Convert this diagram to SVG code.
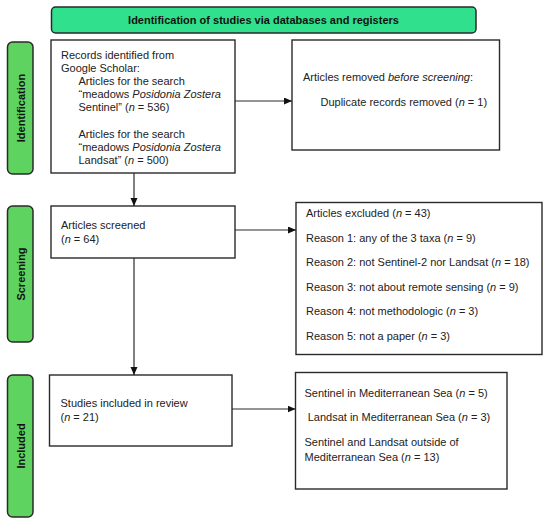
<svg xmlns="http://www.w3.org/2000/svg" width="550" height="524" viewBox="0 0 550 524">
<style>
text{font-family:"Liberation Sans",Arial,sans-serif;font-size:11px;fill:#222}
.b{font-weight:bold;fill:#111}
.box{fill:#fff;stroke:#2a2a2a;stroke-width:1.4}
.side{fill:#5fd35f;stroke:#2a2a2a;stroke-width:1.5}
.ban{fill:#30e08c;stroke:#2a2a2a;stroke-width:1.5}
.con{stroke:#2a2a2a;stroke-width:1.2;fill:none}
</style>
<defs>
<marker id="ah" markerUnits="userSpaceOnUse" markerWidth="9" markerHeight="8" refX="8" refY="3.5" orient="auto">
<path d="M0,0 L8,3.5 L0,7 z" fill="#111"/>
</marker>
</defs>
<g id="banner">
<rect class="ban" x="51.5" y="7" width="424.5" height="26" rx="4"/>
<text class="b" x="263.5" y="24" text-anchor="middle">Identification of studies via databases and registers</text>
</g>
<g id="label-identification">
<rect class="side" x="7.5" y="42" width="25.5" height="132" rx="5"/>
<text class="b" text-anchor="middle" transform="translate(24.5,108) rotate(-90)">Identification</text>
</g>
<g id="label-screening">
<rect class="side" x="7.5" y="206" width="25.5" height="136" rx="5"/>
<text class="b" text-anchor="middle" transform="translate(24.5,274) rotate(-90)">Screening</text>
</g>
<g id="label-included">
<rect class="side" x="7.5" y="375" width="25.5" height="142" rx="5"/>
<text class="b" text-anchor="middle" transform="translate(24.5,446) rotate(-90)">Included</text>
</g>
<g id="records">
<rect class="box" x="51" y="40" width="184" height="133"/>
<text x="61" y="58.5">Records identified from</text>
<text x="61" y="71.7">Google Scholar:</text>
<text x="78.5" y="84.9">Articles for the search</text>
<text x="78.5" y="98.1">“meadows <tspan font-style="italic">Posidonia Zostera</tspan></text>
<text x="78.5" y="111.3">Sentinel” (<tspan font-style="italic">n</tspan> = 536)</text>
<text x="78.5" y="137.7">Articles for the search</text>
<text x="78.5" y="150.9">“meadows <tspan font-style="italic">Posidonia Zostera</tspan></text>
<text x="78.5" y="164.1">Landsat” (<tspan font-style="italic">n</tspan> = 500)</text>
</g>
<g id="removed">
<rect class="box" x="292" y="40" width="207.5" height="110"/>
<text x="303" y="81.3">Articles removed <tspan font-style="italic">before screening</tspan>:</text>
<text x="320.5" y="106">Duplicate records removed (<tspan font-style="italic">n</tspan> = 1)</text>
</g>
<g id="screened">
<rect class="box" x="51" y="206" width="184" height="52"/>
<text x="61" y="229.3">Articles screened</text>
<text x="61" y="242.7">(<tspan font-style="italic">n</tspan> = 64)</text>
</g>
<g id="excluded">
<rect class="box" x="296" y="202.5" width="246" height="152"/>
<text x="306" y="217">Articles excluded (<tspan font-style="italic">n</tspan> = 43)</text>
<text x="306" y="241.6">Reason 1: any of the 3 taxa (<tspan font-style="italic">n</tspan> = 9)</text>
<text x="306" y="266.2">Reason 2: not Sentinel-2 nor Landsat (<tspan font-style="italic">n</tspan> = 18)</text>
<text x="306" y="290.8">Reason 3: not about remote sensing (<tspan font-style="italic">n</tspan> = 9)</text>
<text x="306" y="315.4">Reason 4: not methodologic (<tspan font-style="italic">n</tspan> = 3)</text>
<text x="306" y="340">Reason 5: not a paper (<tspan font-style="italic">n</tspan> = 3)</text>
</g>
<g id="included">
<rect class="box" x="49.5" y="375" width="182.5" height="71"/>
<text x="60.5" y="407.3">Studies included in review</text>
<text x="60.5" y="420.7">(<tspan font-style="italic">n</tspan> = 21)</text>
</g>
<g id="included-detail">
<rect class="box" x="295.5" y="372.5" width="211.5" height="116.5"/>
<text x="304.5" y="396.7">Sentinel in Mediterranean Sea (<tspan font-style="italic">n</tspan> = 5)</text>
<text x="307.7" y="421">Landsat in Mediterranean Sea (<tspan font-style="italic">n</tspan> = 3)</text>
<text x="304.5" y="446">Sentinel and Landsat outside of</text>
<text x="304.5" y="461">Mediterranean Sea (<tspan font-style="italic">n</tspan> = 13)</text>
</g>
<g id="connectors">
<line class="con" x1="235" y1="101" x2="292" y2="101" marker-end="url(#ah)"/>
<line class="con" x1="134" y1="173" x2="134" y2="206" marker-end="url(#ah)"/>
<line class="con" x1="235" y1="230" x2="296" y2="230" marker-end="url(#ah)"/>
<line class="con" x1="134" y1="258" x2="134" y2="375" marker-end="url(#ah)"/>
<line class="con" x1="232" y1="409" x2="295.5" y2="409" marker-end="url(#ah)"/>
</g>
</svg>
